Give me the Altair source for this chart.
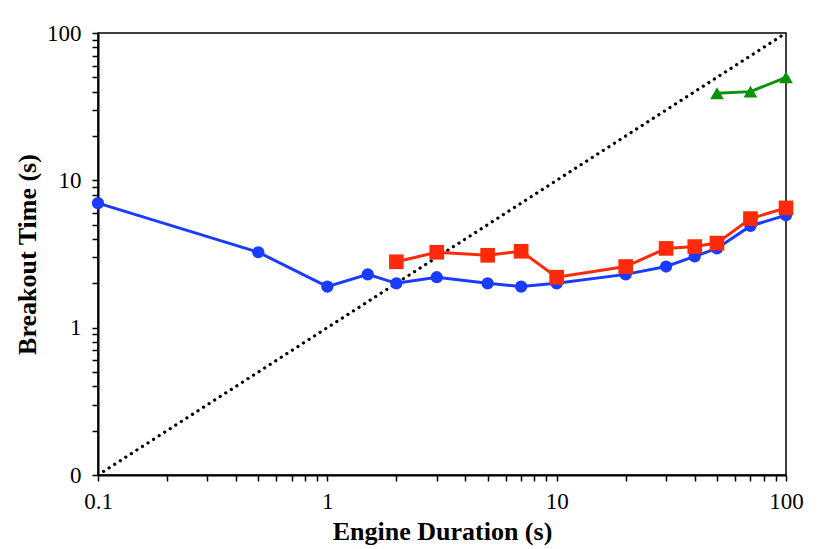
import altair as alt
import pandas as pd

try:
    alt.theme.enable("none")
except Exception:
    pass

# ---- data ----
precursor_x = [0.1, 0.5, 1, 1.5, 2, 3, 5, 7, 10, 20, 30, 40, 50, 70, 100]
precursor_y = [7.0, 3.25, 1.9, 2.3, 2.0, 2.2, 2.0, 1.9, 2.0, 2.3, 2.6, 3.05, 3.45, 4.9, 5.8]
shocked_x = [2, 3, 5, 7, 10, 20, 30, 40, 50, 70, 100]
shocked_y = [2.8, 3.25, 3.1, 3.3, 2.2, 2.6, 3.45, 3.55, 3.75, 5.5, 6.5]
unshocked_x = [50, 70, 100]
unshocked_y = [39, 40, 50]
injection_x = [0.1, 100]
injection_y = [0.1, 100]

series_names = ["Precursor", "Shocked", "Unshocked", "End of the injection"]
series_colors = ["#1a3cff", "#ff2a0a", "#0a930a", "#000000"]
dots_path = ("M-1,-0.16h0.32v0.32h-0.32Z M-0.42,-0.16h0.32v0.32h-0.32Z "
             "M0.16,-0.16h0.32v0.32h-0.32Z M0.74,-0.16h0.32v0.32h-0.32Z")
series_shapes = ["circle", "square", "triangle-up", dots_path]

rows = []
for name, xs, ys in [("Precursor", precursor_x, precursor_y),
                     ("Shocked", shocked_x, shocked_y),
                     ("Unshocked", unshocked_x, unshocked_y),
                     ("End of the injection", injection_x, injection_y)]:
    for i, (a, b) in enumerate(zip(xs, ys)):
        rows.append({"series": name, "x": a, "y": b, "order": i})
df = pd.DataFrame(rows)

FONT = "Liberation Serif"

color_scale = alt.Scale(domain=series_names, range=series_colors)
shape_scale = alt.Scale(domain=series_names, range=series_shapes)

X_LABELS = ("abs(datum.value-0.1)<1e-9 ? '0.1' : (abs(datum.value-1)<1e-9 ? '1' : "
            "(abs(datum.value-10)<1e-9 ? '10' : (abs(datum.value-100)<1e-9 ? '100' : '')))")
Y_LABELS = ("abs(datum.value-0.1)<1e-9 ? '0' : (abs(datum.value-1)<1e-9 ? '1' : "
            "(abs(datum.value-10)<1e-9 ? '10' : (abs(datum.value-100)<1e-9 ? '100' : '')))")


def make_axis(title, expr, label_pad, title_pad):
    return alt.Axis(title=title, labelExpr=expr,
                    labelOverlap=False, labelFlush=False, grid=False,
                    ticks=True, tickSize=6, tickColor="black", tickWidth=1.5,
                    domain=True, domainColor="black", domainWidth=2,
                    labelFont=FONT, labelFontSize=23, labelColor="black",
                    labelPadding=label_pad,
                    titleFont=FONT, titleFontSize=26, titleFontWeight="bold",
                    titleColor="black", titlePadding=title_pad)


x_enc = alt.X("x:Q", scale=alt.Scale(type="log", domain=[0.1, 100]),
              axis=make_axis("Engine Duration (s)", X_LABELS, 9, 5))
y_enc = alt.Y("y:Q", scale=alt.Scale(type="log", domain=[0.1, 100]),
              axis=make_axis("Breakout Time (s)", Y_LABELS, 11, 6))

legend = alt.Legend(
    title=None, orient="top-left", offset=10,
    strokeColor="#333333", padding=8, fillColor="white",
    labelFont=FONT, labelFontSize=21.5, labelColor="black", labelOffset=4,
    symbolSize=170, rowPadding=16, labelLimit=400, symbolOpacity=1,
)

base = alt.Chart(df)


def sel(name):
    return base.transform_filter(alt.datum.series == name)


inj = sel("End of the injection").mark_line(
    strokeDash=[0.1, 6.5], strokeCap="round", strokeWidth=3.2, clip=True, color="black"
).encode(x=x_enc, y=y_enc, order="order:Q")


def line_layer(name):
    return sel(name).mark_line(strokeWidth=3).encode(
        x=x_enc, y=y_enc,
        stroke=alt.Stroke("series:N", scale=color_scale, legend=None),
        order="order:Q")


def point_layer(name, size):
    return sel(name).mark_point(filled=True, size=size, opacity=1).encode(
        x=x_enc, y=y_enc,
        color=alt.Color("series:N", scale=color_scale, legend=legend),
        shape=alt.Shape("series:N", scale=shape_scale, legend=legend))


chart = alt.layer(
    inj,
    line_layer("Precursor"), point_layer("Precursor", 150),
    line_layer("Shocked"), point_layer("Shocked", 215),
    line_layer("Unshocked"), point_layer("Unshocked", 190),
).properties(
    width=688, height=442,
    background="white",
    padding={"left": 6, "top": 14, "right": 5, "bottom": 5},
).configure_view(
    stroke="black", strokeWidth=1.5
).configure_axis(
    ticks=True, tickSize=6
).configure_legend(
    disable=False
)

chart.save("out.html", embed_options={"renderer": "svg", "actions": False})
